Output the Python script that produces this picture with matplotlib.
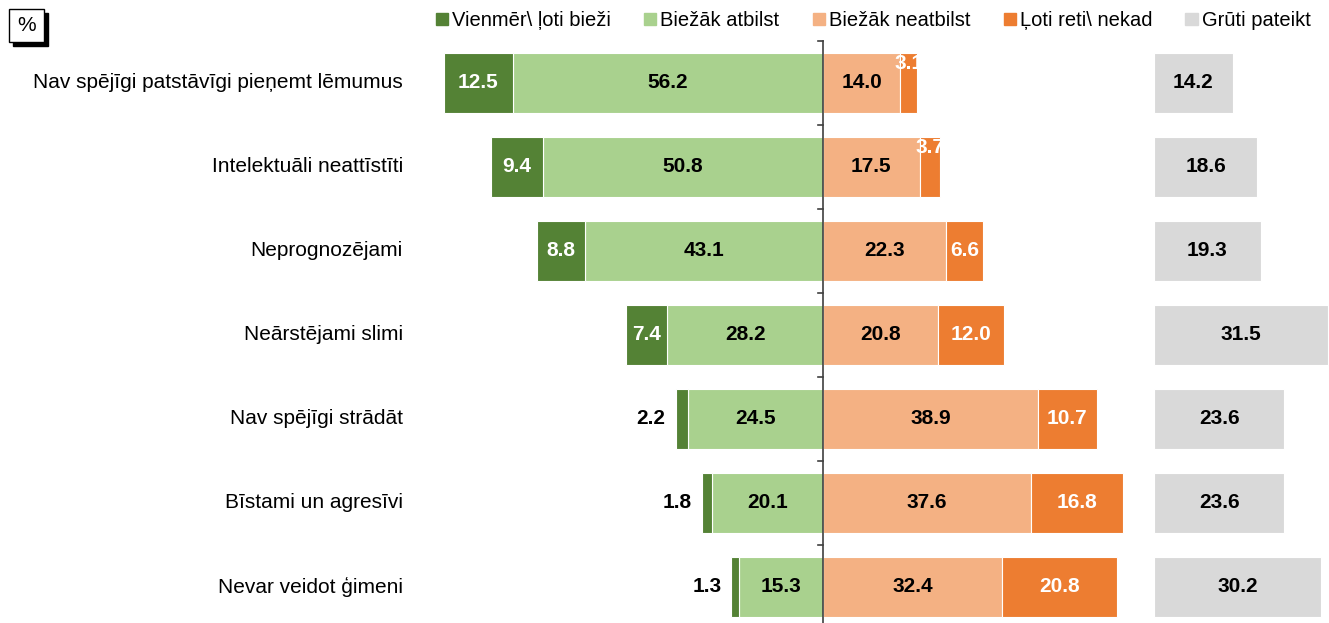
import numpy as np
import matplotlib.pyplot as plt
from matplotlib.patches import Rectangle

plt.rcParams['font.family'] = ['Liberation Sans', 'DejaVu Sans']

categories = ["Nav spējīgi patstāvīgi pieņemt lēmumus", "Intelektuāli neattīstīti",
              "Neprognozējami", "Neārstējami slimi", "Nav spējīgi strādāt",
              "Bīstami un agresīvi", "Nevar veidot ģimeni"]
vienmer = [12.5, 9.4, 8.8, 7.4, 2.2, 1.8, 1.3]
atbilst = [56.2, 50.8, 43.1, 28.2, 24.5, 20.1, 15.3]
neatbilst = [14.0, 17.5, 22.3, 20.8, 38.9, 37.6, 32.4]
reti = [3.1, 3.7, 6.6, 12.0, 10.7, 16.8, 20.8]
gruti = [14.2, 18.6, 19.3, 31.5, 23.6, 23.6, 30.2]
series_names = ["Vienmēr\\ ļoti bieži", "Biežāk atbilst", "Biežāk neatbilst",
                "Ļoti reti\\ nekad", "Grūti pateikt"]

colors = ['#548235', '#A9D18E', '#F4B183', '#ED7D31', '#D9D9D9']
gray_start = 60  # offset of the "hard to say" column

W, H = 1329, 623
fig = plt.figure(figsize=(W / 100, H / 100), dpi=100)
ax = fig.add_axes([0, 0, 1, 1])

px = 5.52  # pixels per percent
x0 = 823
ax.set_xlim(-x0 / px, (W - x0) / px)
ax.set_ylim((H - 83) / 84, -83 / 84)
ax.axis('off')

y = np.arange(len(categories))
h = 0.71
vienmer = np.array(vienmer)
atbilst = np.array(atbilst)
neatbilst = np.array(neatbilst)
reti = np.array(reti)
gruti = np.array(gruti)

kw = dict(height=h, edgecolor='white', linewidth=0.8)
ax.barh(y, -atbilst, color=colors[1], **kw)
ax.barh(y, -vienmer, left=-atbilst, color=colors[0], **kw)
ax.barh(y, neatbilst, color=colors[2], **kw)
ax.barh(y, reti, left=neatbilst, color=colors[3], **kw)
ax.barh(y, gruti, left=gray_start, color=colors[4], **kw)

fs = 15
for i in y:
    ax.text(-atbilst[i] / 2, i, f"{atbilst[i]:.1f}", ha='center', va='center',
            fontsize=fs, fontweight='bold', color='black')
    if vienmer[i] >= 5:
        ax.text(-atbilst[i] - vienmer[i] / 2, i, f"{vienmer[i]:.1f}", ha='center',
                va='center', fontsize=fs, fontweight='bold', color='white')
    else:
        ax.text(-atbilst[i] - vienmer[i] - 10 / px, i, f"{vienmer[i]:.1f}", ha='right',
                va='center', fontsize=fs, fontweight='bold', color='black')
    ax.text(neatbilst[i] / 2, i, f"{neatbilst[i]:.1f}", ha='center', va='center',
            fontsize=fs, fontweight='bold', color='black')
    if reti[i] >= 5:
        ax.text(neatbilst[i] + reti[i] / 2, i, f"{reti[i]:.1f}", ha='center',
                va='center', fontsize=fs, fontweight='bold', color='white')
    else:
        ax.text(neatbilst[i] + reti[i] / 2, i - 0.23, f"{reti[i]:.1f}", ha='center',
                va='center', fontsize=fs, fontweight='bold', color='white')
    ax.text(gray_start + gruti[i] / 2, i, f"{gruti[i]:.1f}", ha='center', va='center',
            fontsize=fs, fontweight='bold', color='black')
    ax.text(-(x0 - 403) / px, i, categories[i], ha='right', va='center', fontsize=15)

# center axis with small ticks between rows
ax.plot([0, 0], [-0.5, len(categories) + 0.5], color='#404040', lw=1.2)
for t in np.arange(-0.5, len(categories), 1.0):
    ax.plot([-5 / px, 0], [t, t], color='#404040', lw=1.2)

# legend
handles = [Rectangle((0, 0), 1, 1, color=c) for c in colors]
fig.legend(handles, series_names, loc='upper left', bbox_to_anchor=(425 / W, 1.0),
           ncol=5, frameon=False, fontsize=14.5, handlelength=0.6, handleheight=0.6,
           handletextpad=0.2, columnspacing=1.65, borderaxespad=0.15)

# "%" box with shadow
fig.patches.append(Rectangle((13 / W, 1 - 46 / H), 35 / W, 33 / H, transform=fig.transFigure,
                             facecolor='black', edgecolor='black', lw=1))
fig.patches.append(Rectangle((9 / W, 1 - 42 / H), 35 / W, 33 / H, transform=fig.transFigure,
                             facecolor='white', edgecolor='black', lw=1))
fig.text(26.5 / W, 1 - 25.5 / H, "%", ha='center', va='center', fontsize=15)

plt.savefig('out.png', dpi=100)
